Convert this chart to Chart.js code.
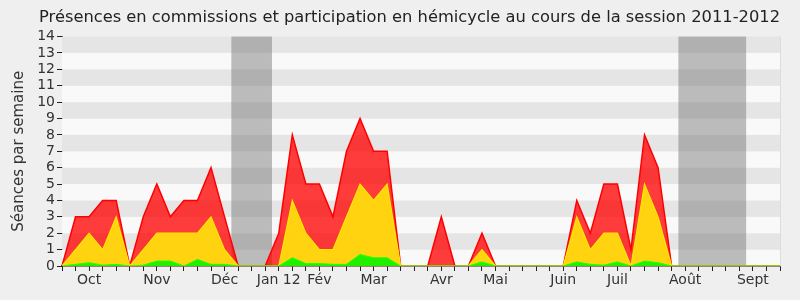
<!DOCTYPE html>
<html>
<head>
<meta charset="utf-8">
<script src="https://cdn.jsdelivr.net/npm/chart.js@4"></script>
<style>
  body { margin: 0; background: #efefef; }
  canvas { display: block; }
</style>
</head>
<body>
<canvas id="presenceChart" width="800" height="300"></canvas>
<script>
// Semaines de la session (54 semaines), libellé du mois sur la semaine du milieu
const semaines = ['', '', 'Oct', '', '', '', '', 'Nov', '', '', '', '', 'Déc', '', '', '', 'Jan 12', '', '', 'Fév', '', '', '', 'Mar', '', '', '', '', 'Avr', '', '', '', 'Mai', '', '', '', '', 'Juin', '', '', '', 'Juil', '', '', '', '', 'Août', '', '', '', '', 'Sept', '', ''];

// Séances par semaine
const participation = [0, 3, 3, 4, 4, 0, 3, 5, 3, 4, 4, 6, 3, 0, 0, 0, 2, 8, 5, 5, 3, 7, 9, 7, 7, 0, 0, 0, 3, 0, 0, 2, 0, 0, 0, 0, 0, 0, 4, 2, 5, 5, 1, 8, 6, 0, 0, 0, 0, 0, 0, 0, 0, 0];
const commissions = [0, 1, 2, 1, 3, 0, 1, 2, 2, 2, 2, 3, 1, 0, 0, 0, 0, 4, 2, 1, 1, 3, 5, 4, 5, 0, 0, 0, 0, 0, 0, 1, 0, 0, 0, 0, 0, 0, 3, 1, 2, 2, 0, 5, 3, 0, 0, 0, 0, 0, 0, 0, 0, 0];
const interventions = [0, 0.1, 0.2, 0.05, 0.1, 0, 0.05, 0.3, 0.3, 0, 0.4, 0.1, 0.1, 0, 0, 0, 0, 0.5, 0.15, 0.15, 0.1, 0.1, 0.7, 0.5, 0.5, 0, 0, 0, 0, 0, 0, 0.25, 0, 0, 0, 0, 0, 0, 0.25, 0.1, 0.05, 0.25, 0, 0.3, 0.2, 0, 0, 0, 0, 0, 0, 0, 0, 0];

// Vacances parlementaires (bornes en semaines)
const vacances = [[12.5, 15.5], [45.5, 50.5]];

const fond = {
    id: 'fond',
    beforeDatasetsDraw(chart) {
        const { ctx, chartArea: a, scales: { x, y } } = chart;
        ctx.save();
        for (let v = 0; v < 14; v++) {
            ctx.fillStyle = v % 2 ? '#e5e5e5' : '#f9f9f9';
            const top = y.getPixelForValue(v + 1);
            ctx.fillRect(a.left, top, a.right - a.left, y.getPixelForValue(v) - top);
        }
        ctx.fillStyle = 'rgba(111,111,111,0.45)';
        vacances.forEach(([d, f]) => {
            const x0 = x.getPixelForValue(d);
            ctx.fillRect(x0, a.top, x.getPixelForValue(f) - x0, a.bottom - a.top);
        });
        ctx.strokeStyle = '#dddddd';
        ctx.beginPath();
        ctx.moveTo(a.right + 0.5, a.top);
        ctx.lineTo(a.right + 0.5, a.bottom);
        ctx.stroke();
        ctx.restore();
    }
};

// le premier jeu de données est dessiné au-dessus
const presenceChart = new Chart(document.getElementById('presenceChart'), {
    type: 'line',
    data: {
        labels: semaines,
        datasets: [{
            data: interventions,
            borderColor: '#22ff00',
            backgroundColor: '#22ee00',
            borderWidth: 1,
            fill: 'origin'
        }, {
            data: commissions,
            borderColor: '#ffe800',
            backgroundColor: '#ffd30f',
            borderWidth: 1.2,
            fill: 'origin'
        }, {
            data: participation,
            borderColor: '#ff0000',
            backgroundColor: 'rgba(255,0,0,0.76)',
            borderWidth: 1.5,
            fill: 'origin'
        }]
    },
    options: {
        responsive: false,
        animation: false,
        layout: { padding: { left: 0, right: 20, top: 0, bottom: 0 } },
        elements: { point: { radius: 0 }, line: { tension: 0 } },
        plugins: {
            legend: { display: false },
            tooltip: { enabled: false },
            title: {
                display: true,
                align: 'end',
                text: 'Présences en commissions et participation en hémicycle au cours de la session 2011-2012',
                color: '#222',
                font: { family: 'DejaVu Sans', size: 16.3, weight: 'normal' },
                padding: { top: 8, bottom: 9 }
            }
        },
        scales: {
            x: {
                offset: false,
                grid: { drawOnChartArea: false, color: '#222', tickLength: 5 },
                border: { color: '#551100', width: 1.5 },
                ticks: {
                    autoSkip: false,
                    maxRotation: 0,
                    padding: 1,
                    color: '#333',
                    font: { family: 'DejaVu Sans', size: 14 }
                },
                afterFit(scale) { scale.height = 34; }
            },
            y: {
                min: 0,
                max: 14,
                grid: { drawOnChartArea: false, color: '#222', tickLength: 5 },
                border: { color: '#222' },
                ticks: {
                    stepSize: 1,
                    autoSkip: false,
                    padding: 2,
                    color: '#333',
                    font: { family: 'DejaVu Sans', size: 14 }
                },
                title: {
                    display: true,
                    text: 'Séances par semaine',
                    color: '#333',
                    padding: { top: 10, bottom: 0 },
                    font: { family: 'DejaVu Sans', size: 15 }
                },
                afterFit(scale) { scale.width = 62; }
            }
        }
    },
    plugins: [fond]
});
</script>
</body>
</html>
